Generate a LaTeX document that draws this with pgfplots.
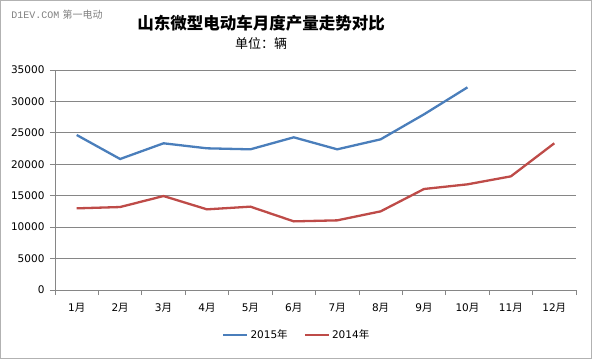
\documentclass[border=0pt]{standalone}
\usepackage{pgfplots}
\pgfplotsset{compat=1.18}
\usepackage{fontspec}
\setmainfont{DejaVu Sans}
\newfontfamily\cjk{Noto Sans CJK SC}
\newfontfamily\mono{Liberation Mono}
\definecolor{s15}{HTML}{4A7EBB}
\definecolor{s14}{HTML}{BE4B48}
\definecolor{gridc}{HTML}{868686}
\newcommand{\m}[1]{#1{\cjk 月}}
\begin{document}
\begin{tikzpicture}[x=1pt,y=1pt]
\draw[gray!60, line width=1pt] (0.5,0.5) rectangle (591.5,358.5);
\useasboundingbox (0,0) rectangle (592,359);
\node[gray, font=\fontsize{10}{12}\selectfont] at (57,344) {{\mono D1EV.COM} {\cjk 第一电动}};
\node[font=\fontsize{16.5}{18}\selectfont\cjk\bfseries] at (261,335.5) {山东微型电动车月度产量走势对比};
\node[font=\fontsize{13}{15}\selectfont\cjk] at (261,315) {单位：辆};
\begin{axis}[
  at={(55pt,69pt)}, anchor=south west,
  scale only axis, width=521pt, height=220pt,
  xmin=0.5, xmax=12.5, ymin=0, ymax=35000,
  xtick={1,...,12},
  xticklabels={\m{1},\m{2},\m{3},\m{4},\m{5},\m{6},\m{7},\m{8},\m{9},\m{10},\m{11},\m{12}},
  major x tick style={draw=none},
  minor xtick={0.5,1.5,...,12.5},
  minor x tick style={gridc, line width=0.8pt},
  minor tick length=5pt,
  ytick={0,5000,...,35000},
  ymajorgrids, grid style={gridc, line width=0.8pt},
  major y tick style={gridc, line width=0.8pt},
  major tick length=5pt,
  tick align=outside,
  tick pos=left,
  axis x line*=bottom, axis y line*=left,
  axis line style={gridc, line width=0.8pt, -},
  scaled y ticks=false,
  /pgf/number format/.cd, set thousands separator={}, assume math mode=true, /pgfplots/.cd,
  tick label style={font=\fontsize{10.5}{12}\selectfont},
  xticklabel style={yshift=-5pt},
  yticklabel style={xshift=-2pt},
  legend style={at={(0.464,-0.205)}, anchor=center, draw=none, fill=none,
    font=\fontsize{10.5}{12}\selectfont, legend columns=2,
    /tikz/every even column/.append style={column sep=14pt}},
  legend image code/.code={\draw[#1] (0pt,0pt) -- (24pt,0pt);},
]
\addplot[s15, line width=2.3pt] coordinates {
(1,24660) (2,20840) (3,23340) (4,22540) (5,22380) (6,24290)
(7,22380) (8,23970) (9,27950) (10,32240)};
\addlegendentry{2015{\cjk 年}}
\addplot[s14, line width=2.3pt] coordinates {
(1,12990) (2,13200) (3,14950) (4,12830) (5,13260) (6,10920)
(7,11080) (8,12510) (9,16070) (10,16810) (11,18080) (12,23340)};
\addlegendentry{2014{\cjk 年}}
\end{axis}
\end{tikzpicture}
\end{document}
